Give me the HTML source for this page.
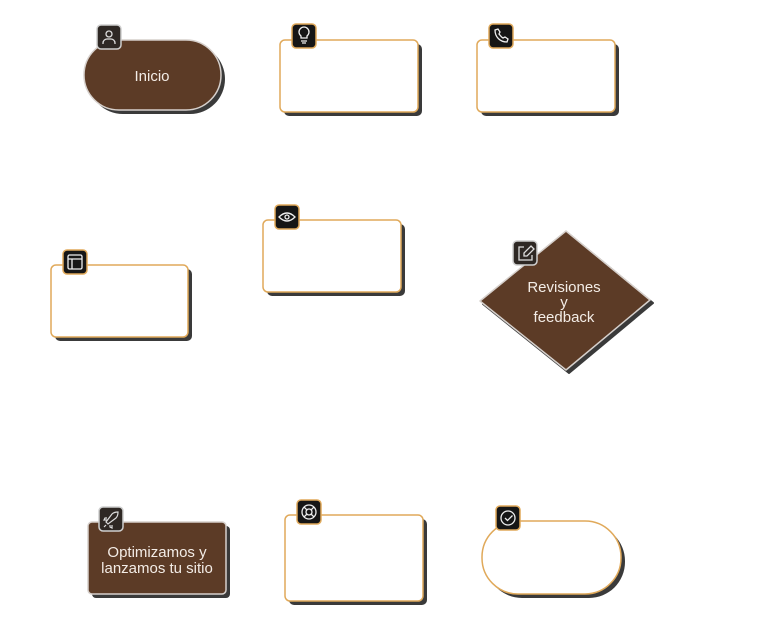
<!DOCTYPE html>
<html><head><meta charset="utf-8"><style>
html,body{margin:0;padding:0;background:#fff;width:763px;height:626px;overflow:hidden}
text{font-family:"Liberation Sans",sans-serif;fill:#f3ece6;font-size:15px}
</style></head><body>
<svg width="763" height="626" viewBox="0 0 763 626" xmlns="http://www.w3.org/2000/svg">
<defs>
<g id="ib"><rect x="0" y="0" width="24" height="24" rx="4" fill="#161616" stroke="#e0a95a" stroke-width="1.5"/></g>
<g id="ibd"><rect x="0" y="0" width="24" height="24" rx="4" fill="#2e2824" stroke="#cfcfcf" stroke-width="1.5"/></g>
</defs>
<!-- Inicio -->
<rect x="88" y="44" width="137" height="70" rx="35" fill="#3a3a3a"/>
<rect x="84" y="40" width="137" height="70" rx="35" fill="#5c3b26" stroke="#d6d0cc" stroke-width="1.5"/>
<text x="152" y="81" text-anchor="middle">Inicio</text>
<use href="#ibd" x="97" y="25"/>
<g stroke="#ddd" stroke-width="1.3" fill="none"><circle cx="109" cy="34" r="3"/><path d="M103 44v-1a4 4 0 0 1 4-4h4a4 4 0 0 1 4 4v1"/></g>

<!-- Box2 -->
<rect x="284" y="44" width="138" height="72" rx="5" fill="#3a3a3a"/>
<rect x="280" y="40" width="138" height="72" rx="5" fill="#fff" stroke="#e0a95a" stroke-width="1.5"/>
<use href="#ib" x="292" y="24"/>
<g stroke="#eee" stroke-width="1.3" fill="none"><path d="M301 38v-2a5 5 0 1 1 6 0v2z"/><path d="M301 41h6M302 43h4"/></g>

<!-- Box3 -->
<rect x="481" y="44" width="138" height="72" rx="5" fill="#3a3a3a"/>
<rect x="477" y="40" width="138" height="72" rx="5" fill="#fff" stroke="#e0a95a" stroke-width="1.5"/>
<use href="#ib" x="489" y="24"/>
<path d="M495 30c0 7 5 12 12 12l1-3-3-2-2 1c-2-1-3-3-4-4l1-2-2-3z" stroke="#eee" stroke-width="1.3" fill="none"/>

<!-- Box4 -->
<rect x="55" y="269" width="137" height="72" rx="5" fill="#3a3a3a"/>
<rect x="51" y="265" width="137" height="72" rx="5" fill="#fff" stroke="#e0a95a" stroke-width="1.5"/>
<use href="#ib" x="63" y="250"/>
<g stroke="#eee" stroke-width="1.3" fill="none"><rect x="68" y="255" width="14" height="14" rx="1.5"/><path d="M68 259h14M72 259v10"/></g>

<!-- Box5 -->
<rect x="267" y="224" width="138" height="72" rx="5" fill="#3a3a3a"/>
<rect x="263" y="220" width="138" height="72" rx="5" fill="#fff" stroke="#e0a95a" stroke-width="1.5"/>
<use href="#ib" x="275" y="205"/>
<g stroke="#eee" stroke-width="1.3" fill="none"><path d="M279 217q8-8 16 0q-8 8-16 0z"/><circle cx="287" cy="217" r="2"/></g>

<!-- Diamond -->
<path d="M569 234 L653 303 L569 373 L483 304 Z" fill="#3a3a3a" stroke="#3a3a3a" stroke-width="2" stroke-linejoin="round"/>
<path d="M566 231 L650 300 L566 370 L480 301 Z" fill="#5c3b26" stroke="#d6d0cc" stroke-width="1.5" stroke-linejoin="round"/>
<text x="564" y="292" text-anchor="middle">Revisiones</text>
<text x="564" y="307" text-anchor="middle">y</text>
<text x="564" y="322" text-anchor="middle">feedback</text>
<use href="#ibd" x="513" y="241"/>
<g stroke="#ddd" stroke-width="1.3" fill="none"><path d="M524 247h-5v13h13v-5"/><path d="M531 246l3 3-7 7h-3v-3z"/></g>

<!-- Optimizamos -->
<rect x="92" y="526" width="138" height="72" rx="4" fill="#3a3a3a"/>
<rect x="88" y="522" width="138" height="72" rx="4" fill="#5c3b26" stroke="#d6d0cc" stroke-width="1.5"/>
<text x="157" y="557" text-anchor="middle">Optimizamos y</text>
<text x="157" y="573" text-anchor="middle">lanzamos tu sitio</text>
<use href="#ibd" x="99" y="507"/>
<g stroke="#ddd" stroke-width="1.2" fill="none"><path d="M106 522l2 2 8-6c2-2 2-5 2-6-1 0-4 0-6 2z"/><path d="M107 518l-2 0-1 2 3 0M110 525l0 2 2 1 0-3"/><path d="M104 527l2-2"/></g>

<!-- Box8 -->
<rect x="289" y="519" width="138" height="86" rx="5" fill="#3a3a3a"/>
<rect x="285" y="515" width="138" height="86" rx="5" fill="#fff" stroke="#e0a95a" stroke-width="1.5"/>
<use href="#ib" x="297" y="500"/>
<g stroke="#eee" stroke-width="1.3" fill="none"><circle cx="309" cy="512" r="7"/><circle cx="309" cy="512" r="3"/><path d="M304 507l3 3M314 507l-3 3M304 517l3-3M314 517l-3-3"/></g>

<!-- Box9 pill -->
<rect x="486" y="525" width="139" height="73" rx="36" fill="#3a3a3a"/>
<rect x="482" y="521" width="139" height="73" rx="36" fill="#fff" stroke="#e0a95a" stroke-width="1.5"/>
<use href="#ib" x="496" y="506"/>
<g stroke="#eee" stroke-width="1.3" fill="none"><circle cx="508" cy="518" r="7"/><path d="M505 518l2.5 2.5 5-5"/></g>
</svg>
</body></html>
